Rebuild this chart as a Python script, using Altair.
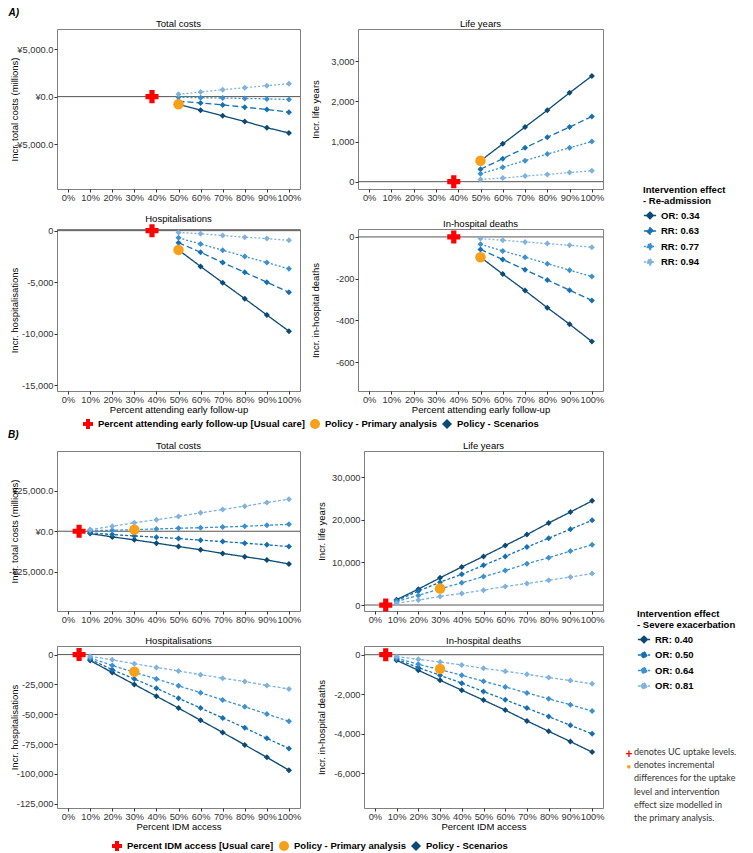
import altair as alt
import pandas as pd

FONT = "Liberation Sans"

# ---------------- Panel A: Re-admission ----------------
A_UPTAKE = [50, 60, 70, 80, 90, 100]
A_EFFECTS = ["OR: 0.34", "RR: 0.63", "RR: 0.77", "RR: 0.94"]
A_UC_UPTAKE = 38
A_PRIMARY_UPTAKE = 50
A_COST = [
    [-800, -1425, -2015, -2600, -3265, -3815],
    [-490, -665, -870, -1110, -1350, -1630],
    [-70, -110, -150, -190, -240, -300],
    [240, 480, 730, 935, 1145, 1350],
]
A_LIFE_YEARS = [
    [520, 942, 1360, 1778, 2213, 2631],
    [310, 573, 843, 1106, 1360, 1623],
    [197, 360, 524, 688, 843, 1000],
    [57, 90, 139, 180, 229, 270],
]
A_HOSP = [
    [-1870, -3480, -5050, -6610, -8190, -9760],
    [-1170, -2100, -3100, -4050, -5000, -5980],
    [-700, -1300, -1900, -2500, -3100, -3710],
    [-170, -300, -470, -640, -770, -940],
]
A_DEATHS = [
    [-97, -178, -257, -339, -418, -501],
    [-60, -108, -157, -206, -255, -304],
    [-35, -67, -97, -128, -159, -190],
    [-8, -16, -24, -32, -40, -49],
]
A_PRIMARY = [-800, 520, -1870, -97]
A_YDOMAINS = [[-9700, 7100], [-182, 3800], [-15570, 160], [-738, 38]]
A_YTICKS = [[-5000, 0, 5000], [0, 1000, 2000, 3000],
            [-15000, -10000, -5000, 0], [-600, -400, -200, 0]]
A_XTITLE = "Percent attending early follow-up"
A_KINDS = ["Percent attending early follow-up [Usual care]",
           "Policy - Primary analysis", "Policy - Scenarios"]
A_LEGEND_TITLE = ["Intervention effect", "- Re-admission"]

# ---------------- Panel B: Severe exacerbation ----------------
B_UPTAKE = [10, 20, 30, 40, 50, 60, 70, 80, 90, 100]
B_EFFECTS = ["RR: 0.40", "OR: 0.50", "OR: 0.64", "OR: 0.81"]
B_UC_UPTAKE = 5
B_PRIMARY_UPTAKE = 30
B_COST = [
    [-1470, -3490, -5330, -7350, -9440, -11460, -13700, -15750, -17770, -20220],
    [-900, -2080, -2880, -3680, -4530, -5510, -6370, -7350, -8390, -9440],
    [430, 610, 980, 1410, 1840, 2200, 2630, 3060, 3680, 4290],
    [1000, 3060, 5270, 7110, 9190, 11400, 13480, 15500, 17770, 19800],
]
B_LIFE_YEARS = [
    [1250, 3720, 6370, 8930, 11400, 13950, 16510, 19230, 21790, 24420],
    [1050, 3260, 5350, 7210, 9300, 11400, 13580, 15670, 17770, 19860],
    [850, 2260, 3800, 5200, 6670, 8070, 9700, 11090, 12650, 14120],
    [400, 1160, 2020, 2720, 3490, 4350, 5050, 5810, 6590, 7370],
]
B_HOSP = [
    [-4950, -15100, -25000, -34900, -44850, -55100, -65250, -75700, -86150, -96900],
    [-3900, -12640, -20400, -28300, -36600, -44850, -53100, -61360, -70200, -78700],
    [-2800, -9080, -14870, -20400, -26200, -31960, -37990, -43770, -49800, -55900],
    [-1400, -4400, -7700, -10740, -13760, -16800, -19820, -22580, -25880, -28900],
]
B_DEATHS = [
    [-286, -789, -1290, -1794, -2296, -2800, -3350, -3870, -4390, -4925],
    [-230, -650, -1040, -1440, -1860, -2280, -2700, -3130, -3570, -4000],
    [-170, -487, -754, -1040, -1340, -1630, -1930, -2230, -2530, -2850],
    [-90, -236, -370, -520, -688, -838, -990, -1156, -1307, -1474],
]
B_PRIMARY = [980, 3880, -14290, -718]
B_YDOMAINS = [[-49300, 49600], [-1400, 36100], [-128600, 7200], [-7750, 440]]
B_YTICKS = [[-25000, 0, 25000], [0, 10000, 20000, 30000],
            [-125000, -100000, -75000, -50000, -25000, 0], [-6000, -4000, -2000, 0]]
B_XTITLE = "Percent IDM access"
B_KINDS = ["Percent IDM access [Usual care]",
           "Policy - Primary analysis", "Policy - Scenarios"]
B_LEGEND_TITLE = ["Intervention effect", "- Severe exacerbation"]

PANEL_TITLES = ["Total costs", "Life years", "Hospitalisations", "In-hospital deaths"]
Y_TITLES = ["Incr. total costs (millions)", "Incr. life years",
            "Incr. hospitalisations", "Incr. in-hospital deaths"]
X_TICKS = [0, 10, 20, 30, 40, 50, 60, 70, 80, 90, 100]

EFFECT_COLORS = ["#0b4a75", "#1670b0", "#3b91cf", "#7fb3de"]
A_DASHES = [[1, 0], [6, 3], [2, 2], [2, 2]]
B_DASHES = [[1, 0], [3, 2], [3, 2], [3, 2]]
MARK_COLORS = ["#ff0000", "#f7a11a", "#0b4a75"]
MARK_SHAPES = ["cross", "circle", "diamond"]
LEGEND_SYMBOL = "M-1,0L1,0M0,-0.55L0.55,0L0,0.55L-0.55,0Z"

NOTE_LINES = ["denotes UC uptake levels.", "denotes incremental",
              "differences for the uptake", "level and intervention",
              "effect size modelled in", "the primary analysis."]


def effect_legend(title, x, y):
    return alt.Legend(
        title=title, orient="none", legendX=x, legendY=y, direction="vertical",
        symbolType=LEGEND_SYMBOL, symbolSize=150, symbolStrokeWidth=1.4,
        labelFont=FONT, labelFontSize=9.5, labelFontWeight="bold", labelColor="#000",
        titleFont=FONT, titleFontSize=9.5, titleFontWeight="bold", titleColor="#000",
        titleLineHeight=11, titlePadding=3, rowPadding=1.5, labelOffset=4)


def marker_legend(x, y):
    return alt.Legend(
        title=None, orient="none", legendX=x, legendY=y, direction="horizontal",
        symbolSize=100, symbolStrokeWidth=0, labelFont=FONT, labelFontSize=9.5,
        labelFontWeight="bold", labelColor="#000", labelOffset=5, columnPadding=5,
        labelLimit=400)


def panel(idx, uptake, effects, series, uc_x, prim_x, prim_y, kinds, ydom, yticks,
          xtitle, dashes, width, height, ext, eff_leg, mk_leg, note=False):
    rows = [{"uptake": u, "value": v, "effect": e}
            for e, vals in zip(effects, series) for u, v in zip(uptake, vals)]
    df = pd.DataFrame(rows)
    xs = alt.Scale(domain=[-5, 105], nice=False, zero=False)
    ys = alt.Scale(domain=ydom, nice=False, zero=False)
    if idx == 0:
        lab = "(datum.value < 0 ? '-' : '') + '¥' + format(abs(datum.value), ',.1f')"
    else:
        lab = "(datum.value < 0 ? '-' : '') + format(abs(datum.value), ',')"
    yaxis = alt.Axis(values=yticks, labelExpr=lab, title=Y_TITLES[idx],
                     minExtent=ext, maxExtent=ext, titlePadding=3)
    xaxis_kw = dict(values=X_TICKS, labelExpr="datum.value + '%'", labelOverlap=False,
                    labelFlush=False, titlePadding=0)
    xaxis = alt.Axis(title=xtitle, **xaxis_kw) if xtitle else alt.Axis(title=None, **xaxis_kw)

    X = alt.X("uptake:Q", scale=xs, axis=xaxis)
    Y = alt.Y("value:Q", scale=ys, axis=yaxis)

    col = alt.Color("effect:N", scale=alt.Scale(domain=effects, range=EFFECT_COLORS),
                    legend=eff_leg)
    fill_enc = alt.Fill("kind:N", scale=alt.Scale(domain=kinds, range=MARK_COLORS),
                        legend=mk_leg)
    shape_enc = alt.Shape("kind:N", scale=alt.Scale(domain=kinds, range=MARK_SHAPES),
                          legend=mk_leg)

    zero = alt.Chart(pd.DataFrame({"value": [0]})).mark_rule(
        color="#555555", strokeWidth=1).encode(y=Y)
    lines = alt.Chart(df).mark_line(strokeWidth=1.3).encode(
        x=X, y=Y, color=col,
        strokeDash=alt.StrokeDash("effect:N", scale=alt.Scale(domain=effects, range=dashes),
                                  legend=None))
    pts = alt.Chart(df).mark_point(shape="diamond", filled=True, size=36, opacity=1).encode(
        x=X, y=Y, color=col)
    uc = alt.Chart(pd.DataFrame({"uptake": [uc_x], "value": [0], "kind": [kinds[0]]})).mark_point(
        filled=True, opacity=1, size=170).encode(x=X, y=Y, fill=fill_enc, shape=shape_enc)
    prim = alt.Chart(pd.DataFrame({"uptake": [prim_x], "value": [prim_y], "kind": [kinds[1]]})).mark_point(
        filled=True, opacity=1, size=110).encode(x=X, y=Y, fill=fill_enc, shape=shape_enc)
    layers = [zero, lines, pts, uc, prim]
    if note:
        one = pd.DataFrame({"a": [0]})
        layers.append(alt.Chart(one).mark_text(
            font=FONT, fontSize=12, fontWeight="bold", color="#ff0000", align="center", baseline="middle").encode(
            x=alt.value(width + 26), y=alt.value(108), text=alt.value("+")))
        layers.append(alt.Chart(one).mark_text(
            font=FONT, fontSize=8, color="#f7a11a", align="center", baseline="middle").encode(
            x=alt.value(width + 26), y=alt.value(121), text=alt.value("●")))
        layers.append(alt.Chart(one).mark_text(
            font="Lato", fontSize=9, color="#333333", align="left", baseline="top",
            lineHeight=13.2).encode(
            x=alt.value(width + 31), y=alt.value(102), text=alt.value(NOTE_LINES)))
    return alt.layer(*layers).properties(
        width=width, height=height,
        title=alt.TitleParams(PANEL_TITLES[idx], fontSize=9.5, fontWeight="normal", offset=1))


def block(label, uptake, effects, data, uc_x, prim_x, prim, kinds, ydoms, yticks, xtitle,
          dashes, widths, heights, ext, hspace, vspace, eff_leg, mk_leg, note):
    p = [panel(i, uptake, effects, data[i], uc_x, prim_x, prim[i], kinds, ydoms[i], yticks[i],
               xtitle if i >= 2 else None, dashes, widths[i % 2], heights[i // 2], ext,
               eff_leg, mk_leg, note=(note and i == 3)) for i in range(4)]
    return alt.vconcat(
        alt.hconcat(p[0], p[1], spacing=hspace),
        alt.hconcat(p[2], p[3], spacing=hspace),
        spacing=vspace,
        title=alt.TitleParams(label, anchor="start", frame="bounds", offset=0, fontSize=10,
                              fontStyle="italic", fontWeight="bold", color="#000"))


blockA = block("A)", A_UPTAKE, A_EFFECTS, [A_COST, A_LIFE_YEARS, A_HOSP, A_DEATHS],
               A_UC_UPTAKE, A_PRIMARY_UPTAKE, A_PRIMARY, A_KINDS, A_YDOMAINS, A_YTICKS,
               A_XTITLE, A_DASHES, [243, 245], [160, 162], 35, 7, 10,
               effect_legend(A_LEGEND_TITLE, 586, 156), marker_legend(26, 390), False)
blockB = block("B)", B_UPTAKE, B_EFFECTS, [B_COST, B_LIFE_YEARS, B_HOSP, B_DEATHS],
               B_UC_UPTAKE, B_PRIMARY_UPTAKE, B_PRIMARY, B_KINDS, B_YDOMAINS, B_YTICKS,
               B_XTITLE, B_DASHES, [243, 239], [160, 162], 35, 13, 10,
               effect_legend(B_LEGEND_TITLE, 580, 158), marker_legend(55, 390), True)

chart = alt.vconcat(blockA, blockB, spacing=1).resolve_scale(
    color="independent", fill="independent", shape="independent", strokeDash="independent"
).properties(padding=0).configure(font=FONT).configure_view(
    stroke="#7f7f7f", strokeWidth=1, fill="white"
).configure_axis(
    grid=False, domain=False, tickColor="#333333", tickSize=3, labelPadding=1,
    labelColor="#333333", labelFont=FONT, labelFontSize=9.3, titleFont=FONT,
    titleFontSize=9.5, titleFontWeight="normal", titleColor="#000000"
).configure_title(font=FONT, color="#000000")

chart.save("out.html", embed_options={"renderer": "svg", "actions": False})
